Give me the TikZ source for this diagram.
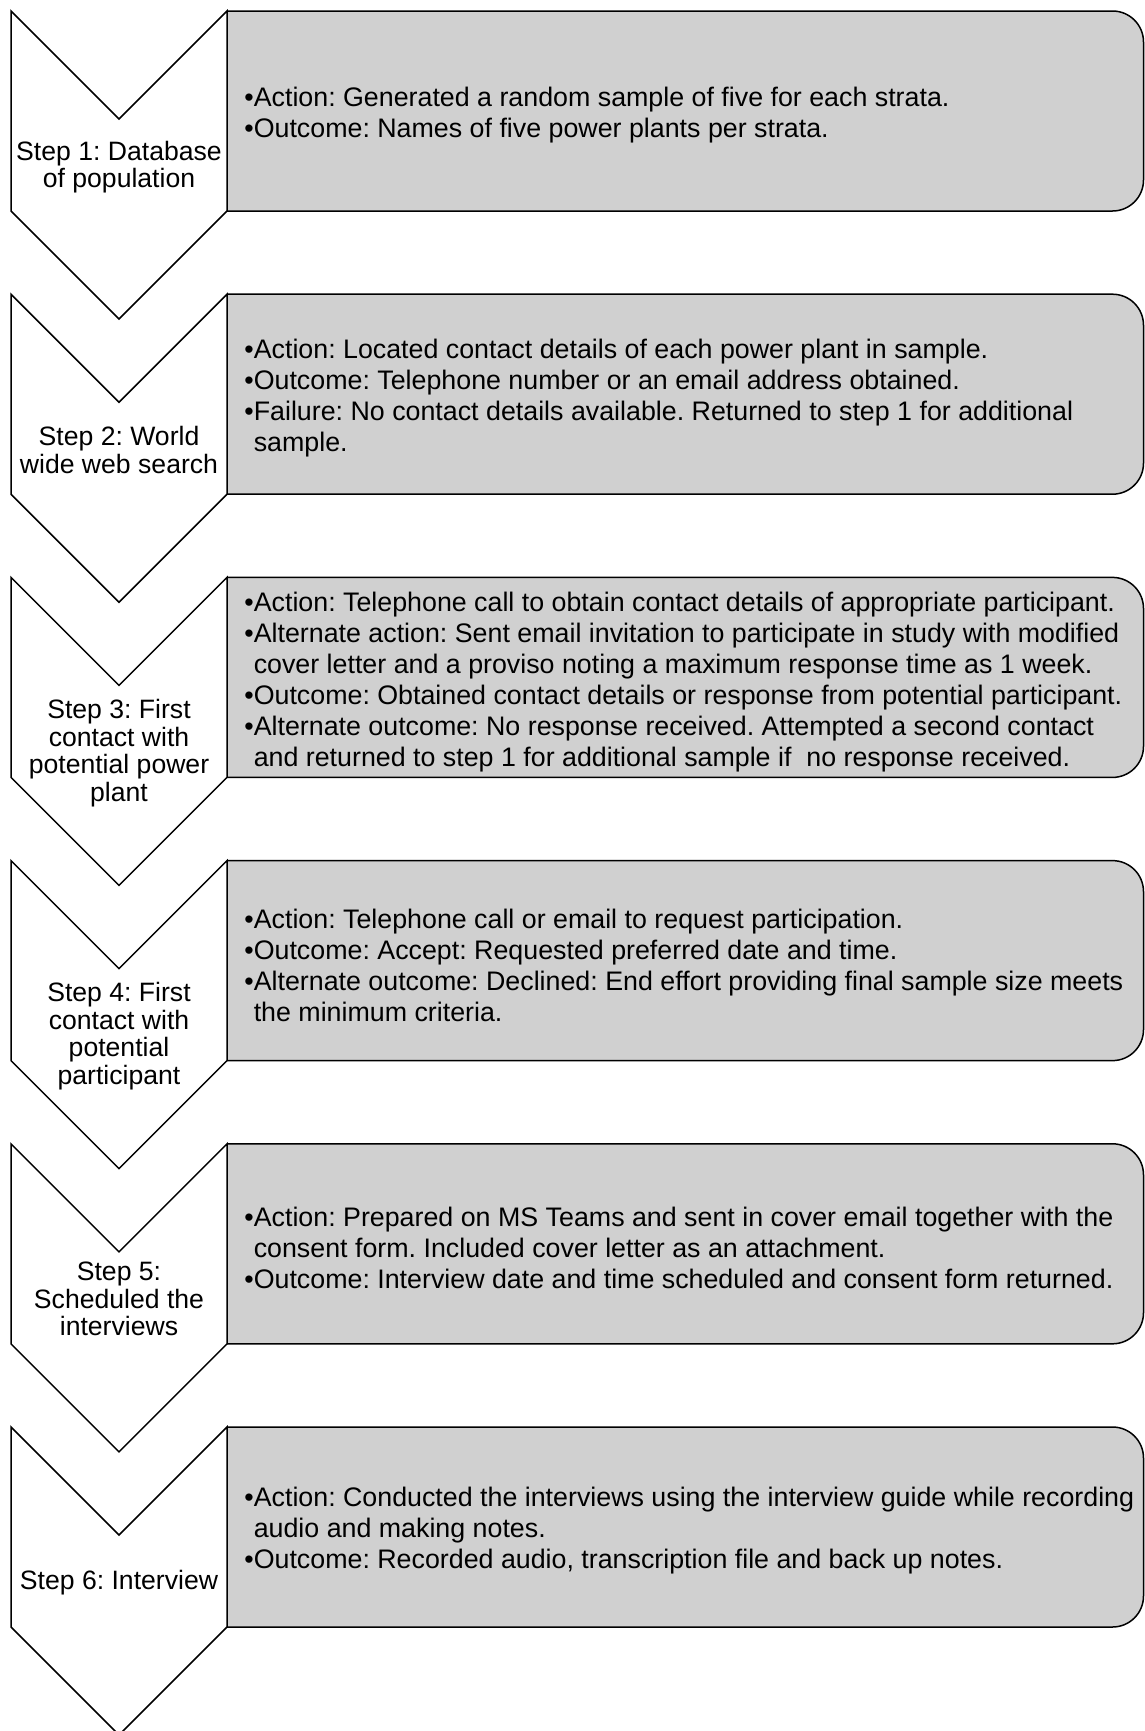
\documentclass[tikz,border=0pt]{standalone}
\usepackage{fontspec}
\setmainfont{Liberation Sans}
\frenchspacing
\definecolor{boxgray}{RGB}{208,208,208}
\tikzset{
  chevron/.style={draw=black, fill=white, line width=0.75pt, line join=miter},
  stepbox/.style={draw=black, fill=boxgray, line width=0.75pt, rounded corners=15.5pt},
  steplabel/.style={align=center, font=\fontsize{13.3}{13.8}\selectfont, inner sep=0pt},
  steptext/.style={align=left, font=\fontsize{13.4}{15.5}\selectfont, inner sep=0pt, anchor=west},
}
\newcommand{\ind}{\hphantom{\textbullet}}

\begin{document}
\begin{tikzpicture}[x=0.5pt, y=-0.5pt]
\useasboundingbox (0,0) rectangle (1145,1731);
% grey boxes, only the right corners rounded
\foreach \i in {0,...,5} {
 \pgfmathsetmacro\t{11+283.2*\i}
 \begin{scope}
  \clip (227,\t-5) rectangle (1150,\t+205);
  \draw[stepbox] (180,\t) rectangle (1143.5,\t+200);
 \end{scope}
}
% chevrons
\foreach \i in {0,...,5} {
 \pgfmathsetmacro\t{11+283.2*\i}
 \draw[chevron] (11,\t) -- (119,\t+108) -- (227,\t) -- (227,\t+200) -- (119,\t+308) -- (11,\t+200) -- cycle;
}
% step labels
\node[steplabel] (step1) at (119,167) {Step 1: Database\\of population};
\node[steplabel] (step2) at (119,450) {Step 2: World\\wide web search};
\node[steplabel] (step3) at (119,753) {Step 3: First\\contact with\\potential power\\plant};
\node[steplabel] (step4) at (119,1036) {Step 4: First\\contact with\\potential\\participant};
\node[steplabel] (step5) at (119,1299) {Step 5:\\Scheduled the\\interviews};
\node[steplabel] (step6) at (119,1583) {Step 6: Interview};
% box texts
\node[steptext] (text1) at (244,115) {\textbullet Action: Generated a random sample of five for each strata.\\
\textbullet Outcome: Names of five power plants per strata.};
\node[steptext] (text2) at (244,398) {\textbullet Action: Located contact details of each power plant in sample.\\
\textbullet Outcome: Telephone number or an email address obtained.\\
\textbullet Failure: No contact details available. Returned to step 1 for additional\\
\ind sample.};
\node[steptext] (text3) at (244,682) {\textbullet Action: Telephone call to obtain contact details of appropriate participant.\\
\textbullet Alternate action: Sent email invitation to participate in study with modified\\
\ind cover letter and a proviso noting a maximum response time as 1 week.\\
\textbullet Outcome: Obtained contact details or response from potential participant.\\
\textbullet Alternate outcome: No response received. Attempted a second contact\\
\ind and returned to step 1 for additional sample if ~no response received.};
\node[steptext] (text4) at (244,965) {\textbullet Action: Telephone call or email to request participation.\\
\textbullet Outcome: Accept: Requested preferred date and time.\\
\textbullet Alternate outcome: Declined: End effort providing final sample size meets\\
\ind the minimum criteria.};
\node[steptext] (text5) at (244,1248) {\textbullet Action: Prepared on MS Teams and sent in cover email together with the\\
\ind consent form. Included cover letter as an attachment.\\
\textbullet Outcome: Interview date and time scheduled and consent form returned.};
\node[steptext] (text6) at (244,1531) {\textbullet Action: Conducted the interviews using the interview guide while recording\\
\ind audio and making notes.\\
\textbullet Outcome: Recorded audio, transcription file and back up notes.};
\end{tikzpicture}
\end{document}
